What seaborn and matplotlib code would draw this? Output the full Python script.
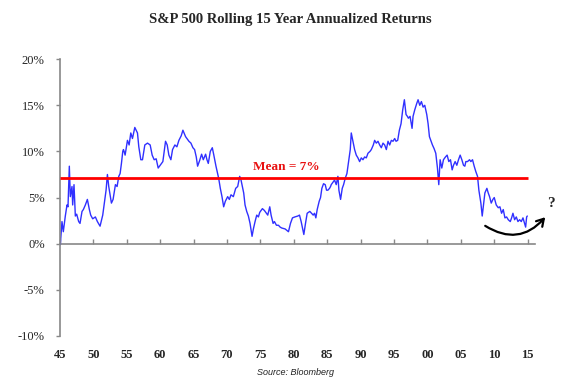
import matplotlib
matplotlib.use("Agg")
import matplotlib.pyplot as plt
import seaborn as sns
import pandas as pd

# Rolling 15-year annualized return (%)
years = [
    1945.0, 1945.05, 1945.3, 1945.5, 1945.8, 1946.05, 1946.2, 1946.4, 1946.55, 1946.8,
    1946.9, 1947.1, 1947.3, 1947.5, 1947.8, 1948.0, 1948.3, 1948.5, 1948.8, 1949.1,
    1949.4, 1949.6, 1949.9, 1950.3, 1950.6, 1951.0, 1951.4, 1951.9, 1952.1, 1952.3,
    1952.7, 1952.95, 1953.3, 1953.55, 1953.8, 1954.0, 1954.2, 1954.4, 1954.5, 1954.6,
    1954.75, 1955.1, 1955.35, 1955.6, 1955.85, 1956.2, 1956.6, 1956.8, 1957.1, 1957.35,
    1957.7, 1958.1, 1958.5, 1958.8, 1959.1, 1959.4, 1959.7, 1960.0, 1960.4, 1960.8,
    1961.05, 1961.3, 1961.6, 1961.85, 1962.2, 1962.5, 1962.8, 1963.15, 1963.4, 1963.8,
    1964.3, 1964.6, 1964.9, 1965.15, 1965.4, 1965.6, 1965.9, 1966.2, 1966.45, 1966.8,
    1967.0, 1967.2, 1967.5, 1967.8, 1968.0, 1968.35, 1968.75, 1969.0, 1969.25, 1969.5,
    1969.75, 1970.1, 1970.35, 1970.6, 1970.95, 1971.3, 1971.6, 1971.9, 1972.1, 1972.5,
    1972.7, 1972.95, 1973.2, 1973.45, 1973.75, 1973.95, 1974.2, 1974.45, 1974.7, 1974.9,
    1975.3, 1975.6, 1975.9, 1976.1, 1976.4, 1976.6, 1976.9, 1977.1, 1977.4, 1977.7,
    1977.95, 1978.2, 1978.7, 1979.2, 1979.5, 1979.8, 1980.15, 1980.6, 1980.85, 1981.1,
    1981.5, 1981.75, 1982.0, 1982.4, 1982.9, 1983.1, 1983.3, 1983.5, 1983.8, 1984.0,
    1984.2, 1984.45, 1984.7, 1984.9, 1985.1, 1985.35, 1985.5, 1985.6, 1986.1, 1986.35,
    1986.6, 1986.75, 1987.0, 1987.25, 1987.45, 1987.7, 1987.95, 1988.2, 1988.45, 1988.6,
    1988.85, 1989.1, 1989.35, 1989.6, 1989.85, 1990.1, 1990.35, 1990.6, 1990.85, 1991.1,
    1991.4, 1991.6, 1991.9, 1992.1, 1992.35, 1992.6, 1992.85, 1993.1, 1993.35, 1993.6,
    1993.85, 1994.1, 1994.35, 1994.6, 1994.85, 1995.1, 1995.3, 1995.55, 1995.8, 1996.05,
    1996.3, 1996.55, 1996.8, 1997.0, 1997.15, 1997.4, 1997.7, 1997.85, 1998.1, 1998.4,
    1998.6, 1998.85, 1999.1, 1999.35, 1999.6, 1999.9, 2000.1, 2000.3, 2000.5, 2000.75,
    2001.0, 2001.25, 2001.5, 2001.7, 2001.9, 2002.15, 2002.4, 2002.7, 2002.95, 2003.2,
    2003.45, 2003.7, 2003.9, 2004.15, 2004.4, 2004.65, 2004.9, 2005.15, 2005.4, 2005.6,
    2005.75, 2006.0, 2006.3, 2006.5, 2006.75, 2007.0, 2007.25, 2007.5, 2007.7, 2008.0,
    2008.2, 2008.4, 2008.6, 2008.9, 2009.1, 2009.3, 2009.55, 2009.8, 2010.0, 2010.3,
    2010.6, 2010.85, 2011.1, 2011.35, 2011.6, 2011.85, 2012.1, 2012.4, 2012.6, 2012.8,
    2013.05, 2013.3, 2013.55, 2013.8, 2014.05, 2014.3, 2014.55, 2014.7, 2014.85, 2014.95,
]
returns = [
    0.6, -0.1, 2.4, 1.3, 3.0, 4.2, 4.0, 8.4, 5.1, 6.2,
    4.2, 6.4, 3.0, 3.2, 2.4, 2.2, 3.5, 3.7, 4.2, 4.8,
    3.7, 3.1, 2.7, 2.9, 2.4, 1.9, 3.1, 5.8, 7.5, 6.2,
    4.4, 4.8, 6.4, 6.2, 7.3, 7.6, 8.7, 10.0, 10.2, 10.0,
    9.6, 11.2, 10.7, 12.0, 11.4, 12.6, 12.0, 10.5, 9.1, 9.1,
    10.7, 10.9, 10.7, 9.6, 9.1, 9.2, 8.2, 8.5, 8.9, 11.1,
    10.7, 9.6, 9.1, 10.2, 10.7, 10.5, 11.2, 11.7, 12.3, 11.6,
    11.1, 10.9, 10.4, 10.2, 9.4, 8.4, 9.0, 9.7, 9.1, 9.7,
    9.1, 8.7, 10.0, 10.4, 9.7, 8.4, 7.1, 6.0, 5.1, 4.0,
    4.6, 5.1, 4.8, 5.3, 5.1, 6.0, 6.2, 7.3, 6.9, 5.5,
    4.2, 3.5, 3.0, 2.2, 0.8, 1.6, 2.4, 3.1, 2.9, 3.4,
    3.8, 3.6, 3.3, 3.1, 4.0, 3.1, 2.2, 2.4, 2.0, 2.0,
    1.8, 1.7, 1.6, 1.3, 2.2, 2.8, 2.9, 3.0, 3.1, 2.4,
    1.0, 2.2, 3.3, 3.5, 3.1, 3.3, 2.8, 3.7, 4.6, 5.0,
    6.0, 6.5, 6.4, 5.8, 5.8, 6.0, 6.2, 6.4, 6.9, 6.4,
    7.3, 5.8, 4.8, 6.0, 6.4, 7.1, 7.6, 8.9, 10.2, 12.0,
    11.1, 10.2, 9.6, 9.3, 8.9, 9.3, 9.1, 9.4, 9.3, 9.8,
    10.0, 10.2, 10.7, 11.2, 10.9, 11.1, 10.7, 10.4, 10.9, 10.7,
    10.2, 11.1, 10.7, 11.2, 11.1, 11.4, 11.1, 11.2, 12.3, 13.0,
    14.5, 15.6, 14.0, 13.8, 13.6, 13.8, 12.5, 13.8, 14.5, 15.2,
    15.6, 15.0, 15.4, 14.8, 15.0, 14.0, 13.0, 11.6, 11.2, 10.7,
    10.3, 9.8, 8.2, 6.4, 9.1, 8.2, 9.1, 9.4, 9.6, 8.9,
    9.1, 8.0, 8.5, 8.9, 8.5, 9.1, 9.6, 9.1, 8.5, 8.4,
    8.9, 8.9, 9.1, 8.9, 9.1, 8.4, 7.8, 7.3, 5.8, 4.4,
    3.0, 4.2, 5.5, 6.0, 5.5, 5.1, 4.4, 4.8, 5.0, 4.2,
    3.9, 4.0, 3.3, 3.7, 2.8, 2.9, 2.6, 2.4, 2.8, 3.3,
    2.6, 2.9, 2.4, 2.6, 2.4, 2.8, 2.2, 1.8, 2.9, 3.0,
]
mean_return = 7.1
tick_years = list(range(1945, 2016, 5))
tick_labels = ["45", "50", "55", "60", "65", "70", "75", "80", "85", "90",
               "95", "00", "05", "10", "15"]
y_ticks = [-10, -5, 0, 5, 10, 15, 20]
y_labels = ["-10%", "-5%", "0%", "5%", "10%", "15%", "20%"]

df = pd.DataFrame({"year": years, "ret": returns})

sns.set_style("white")
plt.rcParams["font.family"] = ["Liberation Serif", "DejaVu Serif"]

fig = plt.figure(figsize=(5.8, 3.84), dpi=100)
ax = fig.add_axes([0.1034, 0.125, 0.819, 0.721])

sns.lineplot(data=df, x="year", y="ret", ax=ax, color="#3030ff", linewidth=1.0)
ax.hlines(mean_return, 1945, 2015.1, color="#ff0000", linewidth=2.0, zorder=3)
ax.text(1978.9, mean_return + 1.2, "Mean = 7%", color="#e81010", fontsize=9.5,
        fontweight="bold", ha="center", va="center")

ax.set_xlim(1945, 2016.1)
ax.set_ylim(-10, 20)
ax.set_xlabel("")
ax.set_ylabel("")

# y axis
ax.set_yticks(y_ticks)
ax.set_yticklabels(y_labels, fontsize=9)
ax.tick_params(axis="y", direction="out", length=3, width=1, color="#888888",
               pad=8, left=True)

# x labels at the bottom, axis line with ticks at 0%
ax.set_xticks(tick_years)
ax.set_xticklabels(tick_labels, fontsize=9, fontweight="bold")
ax.tick_params(axis="x", length=0, pad=9)

for s in ["top", "right", "bottom"]:
    ax.spines[s].set_visible(False)
ax.spines["left"].set_color("#888888")
ax.spines["left"].set_linewidth(1.2)

zero_frac = (0 - ax.get_ylim()[0]) / (ax.get_ylim()[1] - ax.get_ylim()[0])
sec = ax.secondary_xaxis(zero_frac)
sec.set_xticks(tick_years)
sec.set_xticklabels([])
sec.tick_params(direction="in", length=3.5, width=1, color="#888888")
sec.spines["bottom"].set_color("#888888")
sec.spines["bottom"].set_linewidth(1.2)

# curved arrow with question mark
ax.annotate("", xy=(2017.9, 3.1), xytext=(2008.3, 2.1),
            arrowprops=dict(arrowstyle="->,head_length=0.5,head_width=0.3",
                            connectionstyle="arc3,rad=0.45", lw=1.6, color="black"),
            annotation_clip=False)
ax.text(2018.5, 4.4, "?", fontsize=11, fontweight="bold", ha="center", va="center",
        clip_on=False)

fig.text(0.5, 0.95, "S&P 500 Rolling 15 Year Annualized Returns", ha="center",
         va="center", fontsize=10.5, fontweight="bold")
fig.text(0.51, 0.029, "Source: Bloomberg", ha="center", va="center", fontsize=6.5,
         style="italic", family=["Liberation Sans", "DejaVu Sans"], color="#222222")

fig.savefig("out.png", dpi=100)
